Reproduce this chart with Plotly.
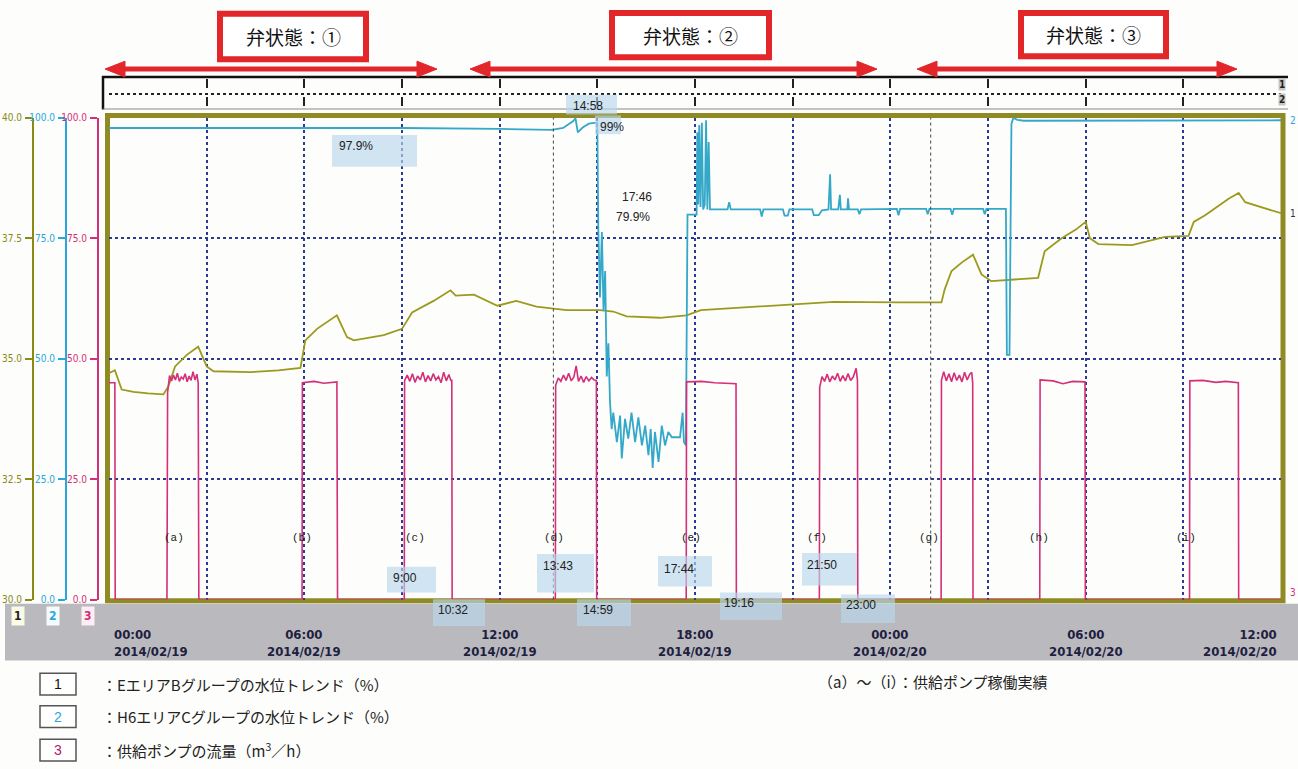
import plotly.graph_objects as go
from datetime import datetime, timedelta

BASE = datetime(2014, 2, 19, 0, 0)

# ---------------- data (hours from 2014/02/19 00:00) ----------------
# 1: E area B group water level (%)  -> olive axis 30..40
level_e_hours = [0.0, 0.18, 0.39, 0.75, 1.2, 1.67, 1.82, 2.03, 2.39, 2.6, 2.74, 3.0, 3.21, 4.34, 5.2,
                 5.88, 6.03, 6.39, 6.8, 7.0, 7.31, 7.52, 8.44, 9.0, 9.31, 9.97, 10.49, 10.65, 11.21,
                 11.93, 12.51, 13.13, 14.05, 15.08, 15.49, 15.9, 16.92, 17.74, 18.18, 20.2, 22.26,
                 24.3, 25.57, 25.67, 25.88, 26.2, 26.54, 26.8, 27.1, 28.54, 28.74, 29.26, 29.7, 30.0,
                 30.13, 30.39, 31.42, 32.44, 33.16, 33.32, 33.67, 34.39, 34.7, 34.9, 36.0]
level_e_values = [34.70, 34.76, 34.36, 34.31, 34.28, 34.26, 34.42, 34.84, 35.08, 35.18, 35.25, 34.84,
                  34.74, 34.72, 34.76, 34.81, 35.38, 35.62, 35.80, 35.90, 35.45, 35.38, 35.49, 35.62,
                  35.96, 36.20, 36.42, 36.31, 36.33, 36.10, 36.20, 36.08, 36.01, 36.01, 35.98, 35.88,
                  35.85, 35.90, 36.01, 36.10, 36.18, 36.17, 36.17, 36.44, 36.82, 37.00, 37.16, 36.75,
                  36.61, 36.68, 37.23, 37.50, 37.68, 37.84, 37.50, 37.38, 37.36, 37.53, 37.55, 37.84,
                  37.98, 38.32, 38.44, 38.25, 38.02]

# 2: H6 area C group water level (%) -> cyan axis 0..100
level_h6_hours = [0.0, 6.0, 9.0, 12.0, 13.6, 13.95, 14.25, 14.33, 14.4, 14.55, 14.74, 14.97, 15.0,
                  15.03, 15.08, 15.14, 15.19, 15.24, 15.29, 15.34, 15.39, 15.44, 15.49, 15.6, 15.7,
                  15.75, 15.85, 15.95, 16.05, 16.16, 16.26, 16.37, 16.47, 16.57, 16.64, 16.7, 16.77,
                  16.88, 16.98, 17.08, 17.18, 17.29, 17.54, 17.62, 17.66, 17.72, 17.77, 18.05, 18.07,
                  18.10, 18.13, 18.17, 18.21, 18.25, 18.30, 18.34, 18.38, 18.42, 18.46, 19.0, 19.05,
                  19.1, 20.0, 20.05, 20.1, 20.7, 20.75, 20.85, 20.9, 21.6, 21.65, 21.8, 21.9, 22.1,
                  22.15, 22.18, 22.4, 22.45, 22.48, 22.68, 22.7, 22.73, 23.0, 23.05, 23.1, 24.2, 24.25,
                  24.3, 25.1, 25.15, 25.2, 25.85, 25.9, 25.95, 26.85, 26.9, 26.95, 27.55, 27.58, 27.66,
                  27.72, 27.78, 27.9, 28.1, 36.0]
level_h6_values = [97.9, 97.9, 97.9, 97.7, 97.5, 97.9, 99.3, 99.9, 97.0, 98.0, 98.8, 99.0, 99.0,
                   77.0, 62.7, 76.3, 60.0, 68.2, 46.3, 53.2, 40.9, 35.4, 38.8, 32.7, 38.2,
                   29.3, 37.5, 33.4, 38.8, 32.7, 37.8, 32.0, 36.1, 30.0, 35.4, 27.3, 34.8,
                   28.6, 36.1, 32.0, 34.8, 33.7, 33.7, 38.8, 32.7, 32.0, 79.9, 79.9, 97.0,
                   82.0, 98.5, 81.5, 99.0, 81.0, 82.0, 99.5, 81.0, 95.0, 81.0, 81.0, 82.5,
                   81.0, 81.0, 79.5, 81.0, 81.0, 79.7, 79.7, 81.0, 81.0, 79.8, 79.8, 80.8, 81.0,
                   88.3, 81.0, 81.0, 84.0, 81.0, 81.0, 83.3, 81.0, 81.0, 80.0, 81.0, 81.1, 79.8,
                   81.1, 81.1, 80.0, 81.1, 81.1, 79.9, 81.1, 81.1, 80.0, 81.1, 81.1, 50.8, 50.8,
                   98.8, 100.0, 99.6, 99.4, 99.5]

# 3: supply pump flow (m3/h) -> magenta axis 0..100
pump_hours = [0.0, 0.18, 0.19, 1.78, 1.80, 1.86, 1.92, 1.98, 2.04, 2.10, 2.16, 2.22, 2.28, 2.34, 2.40,
              2.46, 2.52, 2.58, 2.64, 2.70, 2.74, 2.76,
              5.93, 5.94, 6.3, 6.6, 7.0, 7.02,
              9.07, 9.08, 9.16, 9.24, 9.32, 9.40, 9.48, 9.56, 9.64, 9.72, 9.80, 9.88, 9.96, 10.04,
              10.12, 10.20, 10.28, 10.36, 10.44, 10.50, 10.53, 10.54,
              13.71, 13.72, 13.80, 13.88, 13.96, 14.04, 14.12, 14.20, 14.28, 14.35, 14.42, 14.50,
              14.58, 14.66, 14.74, 14.82, 14.90, 14.97, 14.98,
              17.73, 17.74, 18.2, 18.6, 19.0, 19.26, 19.27,
              21.82, 21.83, 21.90, 21.98, 22.06, 22.14, 22.22, 22.30, 22.38, 22.46, 22.54, 22.62,
              22.70, 22.78, 22.86, 22.95, 22.99, 23.0,
              25.56, 25.57, 25.64, 25.72, 25.80, 25.88, 25.96, 26.04, 26.12, 26.20, 26.28, 26.36,
              26.44, 26.50, 26.53, 26.54,
              28.59, 28.6, 29.0, 29.3, 29.6, 29.98, 29.99,
              33.19, 33.2, 33.6, 34.0, 34.3, 34.69, 34.7, 36.0]
pump_values = [45.0, 45.0, 0.0, 0.0, 43.0, 46.5, 45.4, 46.6, 45.6, 47.0, 45.3, 46.2, 45.8, 46.9, 45.2,
               46.4, 45.5, 47.3, 45.6, 46.8, 45.0, 0.0,
               0.0, 45.0, 45.3, 44.9, 45.2, 0.0,
               0.0, 45.5, 46.6, 45.3, 46.9, 45.1, 46.4, 45.6, 47.2, 45.2, 46.5, 45.4, 46.9, 45.6,
               46.3, 45.0, 47.2, 45.4, 46.7, 45.5, 45.5, 0.0,
               0.0, 44.5, 46.0, 45.3, 46.6, 45.5, 47.0, 45.4, 46.2, 48.5, 45.3, 46.4, 45.1, 46.3,
               45.4, 46.1, 45.6, 45.5, 0.0,
               0.0, 45.2, 45.3, 45.0, 44.9, 44.8, 0.0,
               0.0, 44.0, 46.3, 45.3, 46.8, 45.2, 46.4, 45.6, 47.0, 45.3, 46.5, 45.4, 46.9, 45.5,
               46.2, 48.0, 45.5, 0.0,
               0.0, 45.5, 47.3, 45.4, 46.9, 45.2, 47.1, 45.5, 46.6, 45.2, 47.2, 45.6, 46.8, 47.2,
               45.0, 0.0,
               0.0, 45.6, 45.4, 44.8, 45.3, 45.2, 0.0,
               0.0, 45.4, 45.5, 45.1, 45.3, 45.0, 0.0, 0.0]

grid_hours = [3, 6, 9, 12, 15, 18, 21, 24, 27, 30, 33]
tick_hours = [0, 6, 12, 18, 24, 30, 36]
tick_labels = ["00:00<br>2014/02/19", "06:00<br>2014/02/19", "12:00<br>2014/02/19",
               "18:00<br>2014/02/19", "00:00<br>2014/02/20", "06:00<br>2014/02/20",
               "12:00<br>2014/02/20"]
run_labels = ["(a)", "(b)", "(c)", "(d)", "(e)", "(f)", "(g)", "(h)", "(i)"]
run_label_hours = [2.0, 5.93, 9.4, 13.67, 17.88, 21.75, 25.19, 28.57, 33.09]
cursor_hours = [13.65, 25.24]
axis_e_ticks = [30, 32.5, 35, 37.5, 40]
axis_pct_ticks = [0, 25, 50, 75, 100]

# ---------------- layout helpers ----------------
W, H = 1298, 769


def px(x):
    return x / W


def py(y):
    return 1 - y / H


def t(h):
    return BASE + timedelta(hours=h)


def ann(x, y, text, xref="paper", yref="paper", xanchor="center", yanchor="middle", **kw):
    d = dict(x=x, y=y, text=text, xref=xref, yref=yref, xanchor=xanchor, yanchor=yanchor, showarrow=False)
    d.update(kw)
    return d


OLIVE = "#9c9a1e"
OLIVE_AX = "#8a8a14"
CYAN = "#33a8c8"
CYAN_AX = "#29a7dc"
MAG = "#d42f78"
GRID = "#2b3a96"
RED = "#e3262a"
JP = "Noto Sans CJK JP"
NUM = "Liberation Sans Narrow, DejaVu Sans Condensed, Arial Narrow, sans-serif"

ydom = [py(603.2), py(114.5)]
xdom = [px(109), px(1281)]

fig = go.Figure()
fig.add_trace(go.Scatter(x=[t(h) for h in pump_hours], y=pump_values, yaxis="y3", mode="lines",
                         line=dict(color=MAG, width=1.6), hoverinfo="skip"))
fig.add_trace(go.Scatter(x=[t(h) for h in level_e_hours], y=level_e_values, yaxis="y", mode="lines",
                         line=dict(color=OLIVE, width=1.8), hoverinfo="skip"))
fig.add_trace(go.Scatter(x=[t(h) for h in level_h6_hours], y=level_h6_values, yaxis="y2", mode="lines",
                         line=dict(color=CYAN, width=1.8), hoverinfo="skip"))
fig.add_trace(go.Scatter(x=[], y=[], yaxis="y5", mode="lines", hoverinfo="skip"))
fig.add_trace(go.Scatter(x=[], y=[], xaxis="x2", yaxis="y4", mode="lines", hoverinfo="skip"))


def left_axis(pos, color, rng, vals, overlay=None):
    d = dict(domain=ydom, range=rng, anchor="free", position=px(pos), side="left",
             showline=True, linecolor=color, linewidth=2, ticks="outside", ticklen=7, tickwidth=2,
             tickcolor=color, tickvals=vals, ticktext=["%.1f" % v for v in vals],
             tickfont=dict(size=10, color=color, family=NUM), showgrid=False, zeroline=False,
             fixedrange=True, ticklabelstandoff=1)
    if overlay:
        d["overlaying"] = overlay
    return d


fig.update_layout(
    width=W, height=H, autosize=False, margin=dict(l=0, r=0, t=0, b=0),
    paper_bgcolor="#fdfdfb", plot_bgcolor="rgba(0,0,0,0)", showlegend=False,
    font=dict(family="Liberation Sans", color="#222"),
    xaxis=dict(domain=xdom, range=[t(0), t(36)], type="date", anchor="y", tickvals=[t(h) for h in grid_hours],
               showticklabels=False, ticks="", showgrid=True, gridcolor=GRID, griddash="dot", gridwidth=1.5,
               zeroline=False, showline=False, fixedrange=True),
    xaxis2=dict(domain=xdom, matches="x", type="date", anchor="y4", tickvals=[t(h) for h in grid_hours],
                showticklabels=False, ticks="", showgrid=True, gridcolor="#222", griddash="dash",
                gridwidth=1.5, zeroline=False, showline=False),
    yaxis=left_axis(33, OLIVE_AX, [30, 40], axis_e_ticks),
    yaxis2=left_axis(66, CYAN_AX, [0, 100], axis_pct_ticks, "y"),
    yaxis3=left_axis(98, MAG, [0, 100], axis_pct_ticks, "y"),
    yaxis4=dict(domain=[py(105), py(75)], range=[0, 2], anchor="x2", tickvals=[1], showticklabels=False,
                ticks="", showgrid=True, gridcolor="#222", griddash="dot", gridwidth=2, zeroline=False,
                showline=False),
    yaxis5=dict(overlaying="y", anchor="x", range=[0, 100], tickvals=[25, 50, 75], showticklabels=False,
                ticks="", showgrid=True, gridcolor=GRID, griddash="dot", gridwidth=1.5, zeroline=False,
                showline=False),
)

shapes = []
annotations = []

# gray time band
shapes.append(dict(type="rect", xref="paper", yref="paper", x0=px(5), x1=1, y0=py(665), y1=py(607.5),
                   fillcolor="#b9b9be", line=dict(width=0), layer="below"))
# olive plot border
shapes.append(dict(type="rect", xref="paper", yref="paper", x0=px(107.5), x1=px(1283), y0=py(604.5),
                   y1=py(112), line=dict(color="#8f8a24", width=5), layer="below"))
# header strip borders
shapes.append(dict(type="line", xref="paper", yref="paper", x0=px(102), x1=px(1288), y0=py(73), y1=py(73),
                   line=dict(color="#111", width=2.5)))
shapes.append(dict(type="line", xref="paper", yref="paper", x0=px(103), x1=px(103), y0=py(72), y1=py(106),
                   line=dict(color="#111", width=2.5)))
shapes.append(dict(type="line", xref="paper", yref="paper", x0=px(103), x1=px(1288), y0=py(105.5),
                   y1=py(105.5), line=dict(color="#888", width=1)))
# cursor lines
for ch in cursor_hours:
    shapes.append(dict(type="line", xref="x", yref="paper", x0=t(ch), x1=t(ch), y0=ydom[0], y1=ydom[1],
                       line=dict(color="#444", width=1, dash="dot")))

# time marker boxes (text, x0, x1, y0, y1, text-x, text-y) in pixels
marker_boxes = [
    ("97.9%", 332, 417, 132, 164, 337, 143),
    ("14:58", 566, 617, 91, 111, 571, 102),
    ("99%", 595, 621, 112, 131, 598, 124),
    ("9:00", 387, 436, 570, 596, 391, 581),
    ("10:32", 433, 485, 603, 630, 436, 614),
    ("13:43", 537, 594, 557, 596, 541, 569),
    ("14:59", 577, 631, 603, 630, 581, 614),
    ("17:44", 658, 712, 559, 590, 662, 572),
    ("19:16", 720, 782, 596, 624, 722, 607),
    ("21:50", 802, 857, 556, 589, 805, 568),
    ("23:00", 841, 895, 598, 627, 844, 609),
]
for txt, x0, x1, y0, y1, tx, ty in marker_boxes:
    shapes.append(dict(type="rect", xref="paper", yref="paper", x0=px(x0), x1=px(x1), y0=py(y1), y1=py(y0),
                       fillcolor="rgba(185,215,236,0.65)", line=dict(width=0), layer="above"))
    annotations.append(ann(px(tx), py(ty), txt, xanchor="left", font=dict(size=12, color="#222")))

annotations.append(ann(px(637), py(195), "17:46", font=dict(size=12, color="#222")))
annotations.append(ann(px(633), py(215), "79.9%", font=dict(size=12, color="#222")))

# pump run labels
for lab, h in zip(run_labels, run_label_hours):
    annotations.append(ann(t(h), py(541), lab, xref="x",
                           font=dict(size=11, color="#222", family="Liberation Mono")))

# time tick labels in the gray band
for i, (h, lab) in enumerate(zip(tick_hours, tick_labels)):
    anc = "left" if i == 0 else ("right" if i == len(tick_hours) - 1 else "center")
    annotations.append(ann(t(h), py(647), "<b>%s</b>" % lab, xref="x", xanchor=anc, align=anc,
                           xshift=3 if i == 0 else (-2 if anc == "right" else 0),
                           font=dict(size=13, color="#1e2040", family=NUM)))

# right end series labels
annotations.append(ann(px(1293), level_h6_values[-1], "2", yref="y2",
                       font=dict(size=10, color=CYAN_AX, family=NUM)))
annotations.append(ann(px(1293), level_e_values[-1], "1", yref="y",
                       font=dict(size=10, color="#333", family=NUM)))
annotations.append(ann(px(1293), pump_values[-1] + 1.5, "3", yref="y3",
                       font=dict(size=10, color=MAG, family=NUM)))
# header strip end labels
for lab, yy in [("1", 81), ("2", 96)]:
    annotations.append(ann(px(1282), py(yy), "<b>%s</b>" % lab, bgcolor="#c6c6c6", borderpad=0,
                           font=dict(size=10, color="#222", family=NUM)))
# band number boxes
for lab, xx, col, bg in [("1", 18, "#222", "#fbfbe6"), ("2", 53, CYAN_AX, "#f4fbff"), ("3", 88, MAG, "#fbeef4")]:
    annotations.append(ann(px(xx), py(620), "<b>%s</b>" % lab, bgcolor=bg, borderpad=2,
                           font=dict(size=12, color=col, family=NUM)))

# banners
banners = [("弁状態：①", 220, 366, 9, 55), ("弁状態：②", 612, 769, 8, 53), ("弁状態：③", 1021, 1166, 8, 52)]
for txt, x0, x1, y0, y1 in banners:
    shapes.append(dict(type="rect", xref="paper", yref="paper", x0=px(x0), x1=px(x1), y0=py(y1), y1=py(y0),
                       fillcolor="white", line=dict(color=RED, width=6)))
    annotations.append(ann(px((x0 + x1) / 2), py((y0 + y1) / 2), txt,
                           font=dict(size=19, color="#111", family=JP)))


# double-headed arrows (line + filled heads)
def head_path(tip, back, yc, half):
    return "M %f,%f L %f,%f L %f,%f Z" % (px(tip), py(yc), px(back), py(yc - half), px(back), py(yc + half))


for xa, xb in [(105, 437), (470, 877), (917, 1237)]:
    shapes.append(dict(type="line", xref="paper", yref="paper", x0=px(xa + 10), x1=px(xb - 10), y0=py(65),
                       y1=py(65), line=dict(color=RED, width=5)))
    shapes.append(dict(type="path", xref="paper", yref="paper", path=head_path(xb, xb - 20, 65, 8),
                       fillcolor=RED, line=dict(color=RED, width=1)))
    shapes.append(dict(type="path", xref="paper", yref="paper", path=head_path(xa, xa + 20, 65, 8),
                       fillcolor=RED, line=dict(color=RED, width=1)))

# legend
legend_rows = [("1", "#111", "：EエリアBグループの水位トレンド（%）", 689),
               ("2", CYAN_AX, "：H6エリアCグループの水位トレンド（%）", 722),
               ("3", "#b0206a", "：供給ポンプの流量（m<sup>3</sup>／h）", 756)]
for num, col, txt, yy in legend_rows:
    shapes.append(dict(type="rect", xref="paper", yref="paper", x0=px(40), x1=px(76), y0=py(yy + 11),
                       y1=py(yy - 11), line=dict(color="#555", width=1.5), fillcolor="white"))
    annotations.append(ann(px(58), py(yy), num, font=dict(size=14, color=col, family="Liberation Sans")))
    annotations.append(ann(px(100), py(yy), txt, xanchor="left", font=dict(size=15, color="#222", family=JP)))
annotations.append(ann(px(816), py(686), "（a）～（i）：供給ポンプ稼働実績", xanchor="left",
                       font=dict(size=15, color="#222", family=JP)))

fig.update_layout(shapes=shapes, annotations=annotations)
fig.write_html("out.html", config={"displayModeBar": False},
               post_script="document.body.style.margin='0';document.body.style.overflow='hidden';")
